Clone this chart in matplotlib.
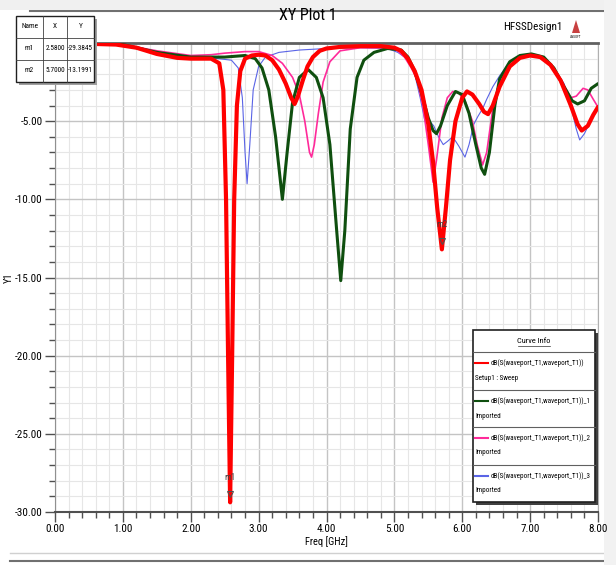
import matplotlib
matplotlib.use("Agg")
import matplotlib.pyplot as plt
from matplotlib import font_manager
from matplotlib.patches import Rectangle
from matplotlib.lines import Line2D
from matplotlib.ticker import MultipleLocator

# narrow font if one is around
names = {f.name for f in font_manager.fontManager.ttflist}
narrow = [n for n in ["Liberation Sans Narrow", "DejaVu Sans Condensed", "Roboto Condensed"]
          if n in names]
plt.rcParams["font.family"] = narrow + ["DejaVu Sans"]
plt.rcParams["font.stretch"] = "condensed"

# ---- data (Freq GHz, dB) ----
red_f = [0, 0.5, 0.9, 1.2, 1.5, 1.8, 2.0, 2.3, 2.42, 2.48, 2.52, 2.55, 2.58, 2.61, 2.64,
         2.68, 2.73, 2.8, 2.9, 3.0, 3.1, 3.2, 3.3, 3.4, 3.48, 3.53, 3.58, 3.65, 3.72, 3.8,
         3.9, 4.0, 4.2, 4.5, 4.8, 5.0, 5.1, 5.2, 5.3, 5.4, 5.5, 5.57, 5.63, 5.7, 5.76,
         5.82, 5.9, 6.0, 6.07, 6.15, 6.25, 6.32, 6.38, 6.45, 6.55, 6.7, 6.85, 7.0, 7.15,
         7.3, 7.45, 7.6, 7.7, 7.76, 7.85, 7.93, 8.0]
red_db = [-0.05, -0.05, -0.1, -0.3, -0.7, -0.95, -1.0, -1.0, -1.3, -3.0, -10.0, -20.0,
          -29.38, -20.0, -10.0, -4.0, -1.8, -1.0, -0.8, -0.75, -0.8, -1.1, -1.7, -2.6,
          -3.5, -3.9, -3.4, -2.4, -1.5, -0.9, -0.5, -0.35, -0.25, -0.2, -0.2, -0.3, -0.5,
          -1.0, -1.8, -3.0, -5.2, -7.6, -10.5, -13.2, -10.5, -7.5, -5.0, -3.5, -3.1,
          -3.3, -3.9, -4.4, -4.55, -4.0, -2.8, -1.5, -0.95, -0.8, -0.9, -1.4, -2.4,
          -4.0, -5.2, -5.6, -5.3, -4.6, -4.1]

green_f = [0, 0.5, 1.0, 1.5, 2.0, 2.5, 2.8, 2.95, 3.05, 3.15, 3.25, 3.35, 3.42, 3.5, 3.6,
           3.73, 3.85, 3.95, 4.05, 4.15, 4.21, 4.27, 4.35, 4.45, 4.55, 4.7, 4.9, 5.1,
           5.2, 5.3, 5.4, 5.5, 5.57, 5.62, 5.68, 5.78, 5.9, 6.0, 6.1, 6.2, 6.28, 6.33,
           6.4, 6.48, 6.55, 6.7, 6.85, 7.02, 7.2, 7.35, 7.5, 7.62, 7.7, 7.8, 7.9, 8.0]
green_db = [0.0, -0.05, -0.1, -0.6, -0.9, -0.9, -0.8, -1.0, -1.6, -3.0, -6.0, -10.0,
            -7.0, -3.8, -2.2, -1.7, -2.2, -3.5, -6.5, -12.0, -15.2, -12.0, -5.5, -2.2,
            -1.1, -0.6, -0.35, -0.45, -0.9, -1.8, -3.2, -4.8, -5.6, -5.8, -5.3, -4.0,
            -3.1, -3.3, -4.5, -6.5, -8.0, -8.4, -7.0, -4.0, -2.3, -1.2, -0.8, -0.7,
            -0.9, -1.6, -2.8, -3.7, -3.9, -3.7, -2.9, -2.6]

pink_f = [0, 1.0, 1.5, 2.0, 2.3, 2.5, 2.8, 3.0, 3.2, 3.35, 3.5, 3.6, 3.68, 3.75, 3.78,
          3.82, 3.88, 3.95, 4.05, 4.2, 4.5, 4.9, 5.05, 5.15, 5.25, 5.33, 5.42, 5.5, 5.57,
          5.62, 5.7, 5.78, 5.86, 5.95, 6.05, 6.15, 6.22, 6.3, 6.36, 6.45, 6.55, 6.7,
          6.85, 7.0, 7.2, 7.35, 7.5, 7.6, 7.68, 7.78, 7.85, 7.93, 8.0]
pink_db = [-0.05, -0.1, -0.5, -0.8, -0.75, -0.65, -0.55, -0.55, -0.8, -1.3, -2.2, -3.3,
           -5.0, -7.0, -7.3, -6.5, -4.5, -2.5, -1.2, -0.5, -0.3, -0.3, -0.5, -0.9, -1.6,
           -2.3, -4.0, -6.5, -8.9, -7.5, -4.8, -3.5, -3.1, -3.2, -3.8, -5.0, -6.5, -7.8,
           -7.0, -4.2, -2.4, -1.2, -0.85, -0.75, -1.0, -1.7, -2.7, -3.5, -3.4, -2.9,
           -3.0, -3.6, -4.1]

blue_f = [0, 1.0, 1.5, 2.0, 2.4, 2.6, 2.7, 2.76, 2.8, 2.83, 2.87, 2.92, 3.0, 3.1, 3.3,
          3.6, 4.0, 4.5, 4.9, 5.05, 5.15, 5.23, 5.3, 5.38, 5.45, 5.52, 5.58, 5.65, 5.72,
          5.78, 5.86, 5.95, 6.04, 6.1, 6.17, 6.23, 6.3, 6.36, 6.45, 6.55, 6.7, 6.85, 7.0,
          7.2, 7.35, 7.5, 7.6, 7.68, 7.73, 7.8, 7.9, 8.0]
blue_db = [-0.05, -0.1, -0.6, -0.9, -1.0, -1.1, -1.6, -3.5, -7.0, -9.0, -6.5, -3.0,
           -1.5, -0.9, -0.6, -0.45, -0.35, -0.3, -0.35, -0.6, -0.9, -1.2, -2.0, -3.5,
           -5.0, -5.0, -5.3, -6.0, -6.5, -6.3, -6.0, -6.6, -7.3, -6.5, -5.2, -4.7, -4.2,
           -3.6, -2.8, -2.1, -1.2, -0.85, -0.75, -1.0, -1.6, -2.6, -4.0, -5.5, -6.2,
           -5.8, -4.9, -4.2]

marker_names = ["m1", "m2"]
marker_x = [2.58, 5.70]
marker_y = [-29.3845, -13.1991]

curve_names = ["dB(S(waveport_T1,waveport_T1))", "dB(S(waveport_T1,waveport_T1))_1",
               "dB(S(waveport_T1,waveport_T1))_2", "dB(S(waveport_T1,waveport_T1))_3"]
curve_sub = ["Setup1 : Sweep", "Imported", "Imported", "Imported"]
curve_colors = ["#ff0000", "#0f4f0f", "#ff2a9a", "#5a64e6"]
curve_lw = [3.0, 2.2, 1.2, 0.8]

W, H = 616, 565
fx = lambda px: px / W
fy = lambda py: 1 - py / H

fig = plt.figure(figsize=(6.16, 5.65), dpi=100)
fig.patch.set_facecolor("white")

# window chrome (kept beneath the axes)
fig.patches.append(Rectangle((0, fy(10)), 1, 10 / H, transform=fig.transFigure,
                             facecolor="#f0f0f0", edgecolor="none", zorder=-1))
fig.add_artist(Line2D([fx(30), 1], [fy(11), fy(11)], color="#707070", lw=1.5, zorder=-1))
fig.patches.append(Rectangle((fx(604), 0), 12 / W, 1, transform=fig.transFigure,
                             facecolor="#f2f2f2", edgecolor="none", zorder=-1))
fig.add_artist(Line2D([fx(10), 1], [fy(553), fy(553)], color="#d0d0d0", lw=1, zorder=-1))
fig.add_artist(Line2D([fx(10), 1], [fy(561), fy(561)], color="#707070", lw=1.5, zorder=-1))

ax = fig.add_axes([fx(55), fy(512), fx(598) - fx(55), fy(43) - fy(512)])
ax.set_xlim(0, 8)
ax.set_ylim(-30, 0)
ax.xaxis.set_major_locator(MultipleLocator(1))
ax.xaxis.set_minor_locator(MultipleLocator(0.2))
ax.yaxis.set_major_locator(MultipleLocator(5))
ax.yaxis.set_minor_locator(MultipleLocator(1))
ax.grid(which="major", color="#c4c4c4", lw=1.0)
ax.grid(which="minor", color="#e6e6e6", lw=0.8)
ax.set_axisbelow(True)
ax.xaxis.set_major_formatter(lambda v, p: f"{v:.2f}")
# the 0.00 label sits under the marker table
ax.yaxis.set_major_formatter(lambda v, p: "" if v > -1 else f"{v:.2f}")
ax.tick_params(which="major", direction="out", length=7, width=1, color="#505050",
               labelsize=8, pad=2)
ax.tick_params(which="minor", direction="out", length=4, width=1, color="#505050")
ax.spines["top"].set_color("#606060")
ax.spines["top"].set_linewidth(2)
ax.spines["bottom"].set_color("#505050")
ax.spines["bottom"].set_linewidth(1.5)
ax.spines["left"].set_color("#909090")
ax.spines["right"].set_color("#b0b0b0")
ax.set_xlabel("Freq [GHz]", fontsize=7.5, labelpad=1)
ax.set_ylabel("Y1", fontsize=7.5, labelpad=1)

series = [(red_f, red_db), (green_f, green_db), (pink_f, pink_db), (blue_f, blue_db)]
zorders = [5, 4, 3, 2]
for (f, d), c, lw, z in zip(series, curve_colors, curve_lw, zorders):
    ax.plot(f, d, color=c, lw=lw, zorder=z, solid_capstyle="round")

for n, mx, my in zip(marker_names, marker_x, marker_y):
    ax.plot(mx, my + 0.55, marker="v", ms=5, mfc="none", mec="#505050", mew=0.8, zorder=6)
    ax.text(mx, my + 1.3, n, fontsize=6.5, color="#404040", ha="center", va="bottom",
            zorder=6)

# titles
fig.text(0.5, fy(16), "XY Plot 1", fontsize=11.5, ha="center", va="center")
fig.text(fx(563), fy(27), "HFSSDesign1", fontsize=8, ha="right", va="center")
fig.patches.append(plt.Polygon([[fx(572), fy(33)], [fx(576), fy(20)], [fx(580), fy(33)]],
                               closed=True, transform=fig.transFigure,
                               facecolor="#c84040", edgecolor="none"))
fig.text(fx(576), fy(37), "ANSOFT", fontsize=2.5, ha="center", va="center")

# marker table
tx = [16, 43, 67, 94]
ty = [16, 38, 60, 82]
fig.patches.append(Rectangle((fx(tx[0] + 3), fy(ty[-1] + 3)), (tx[-1] - tx[0]) / W,
                             (ty[-1] - ty[0]) / H, transform=fig.transFigure,
                             facecolor="#a0a0a0", edgecolor="none", zorder=8))
fig.patches.append(Rectangle((fx(tx[0]), fy(ty[-1])), (tx[-1] - tx[0]) / W,
                             (ty[-1] - ty[0]) / H, transform=fig.transFigure,
                             facecolor="white", edgecolor="#202020", lw=1, zorder=9))
for x in tx[1:-1]:
    fig.add_artist(Line2D([fx(x), fx(x)], [fy(ty[0]), fy(ty[-1])], color="#404040",
                          lw=0.6, zorder=10))
for y in ty[1:-1]:
    fig.add_artist(Line2D([fx(tx[0]), fx(tx[-1])], [fy(y), fy(y)], color="#404040",
                          lw=0.6, zorder=10))
rows = [["Name", "X", "Y"]] + [[n, f"{x:.4f}", f"{y:.4f}"]
                               for n, x, y in zip(marker_names, marker_x, marker_y)]
for i, r in enumerate(rows):
    for j, t in enumerate(r):
        fig.text(fx((tx[j] + tx[j + 1]) / 2), fy((ty[i] + ty[i + 1]) / 2), t,
                 fontsize=5.2, ha="center", va="center", zorder=11)

# curve info legend
lx0, lx1, ly0, ly1 = 473, 595, 330, 502
fig.patches.append(Rectangle((fx(lx0 + 3), fy(ly1 + 3)), (lx1 - lx0) / W, (ly1 - ly0) / H,
                             transform=fig.transFigure, facecolor="#404040",
                             edgecolor="none", zorder=8))
fig.patches.append(Rectangle((fx(lx0), fy(ly1)), (lx1 - lx0) / W, (ly1 - ly0) / H,
                             transform=fig.transFigure, facecolor="white",
                             edgecolor="#202020", lw=1.2, zorder=9))
fig.text(fx((lx0 + lx1) / 2), fy(341), "Curve Info", fontsize=6, ha="center",
         va="center", zorder=11)
fig.add_artist(Line2D([fx(518), fx(550)], [fy(346), fy(346)], color="#303030", lw=0.5,
                      zorder=11))
seps = [352, 390, 427, 465]
for k, s in enumerate(seps):
    fig.add_artist(Line2D([fx(lx0), fx(lx1)], [fy(s), fy(s)], color="#606060", lw=0.8,
                          zorder=10))
    yl = s + 11
    fig.add_artist(Line2D([fx(475), fx(488)], [fy(yl), fy(yl)], color=curve_colors[k],
                          lw=1.5, zorder=11))
    fig.text(fx(491), fy(yl), curve_names[k], fontsize=5.1, ha="left", va="center",
             zorder=11)
    fig.text(fx(475), fy(yl + 15), curve_sub[k], fontsize=5.1, ha="left", va="center",
             zorder=11)

fig.savefig("out.png", dpi=100)
